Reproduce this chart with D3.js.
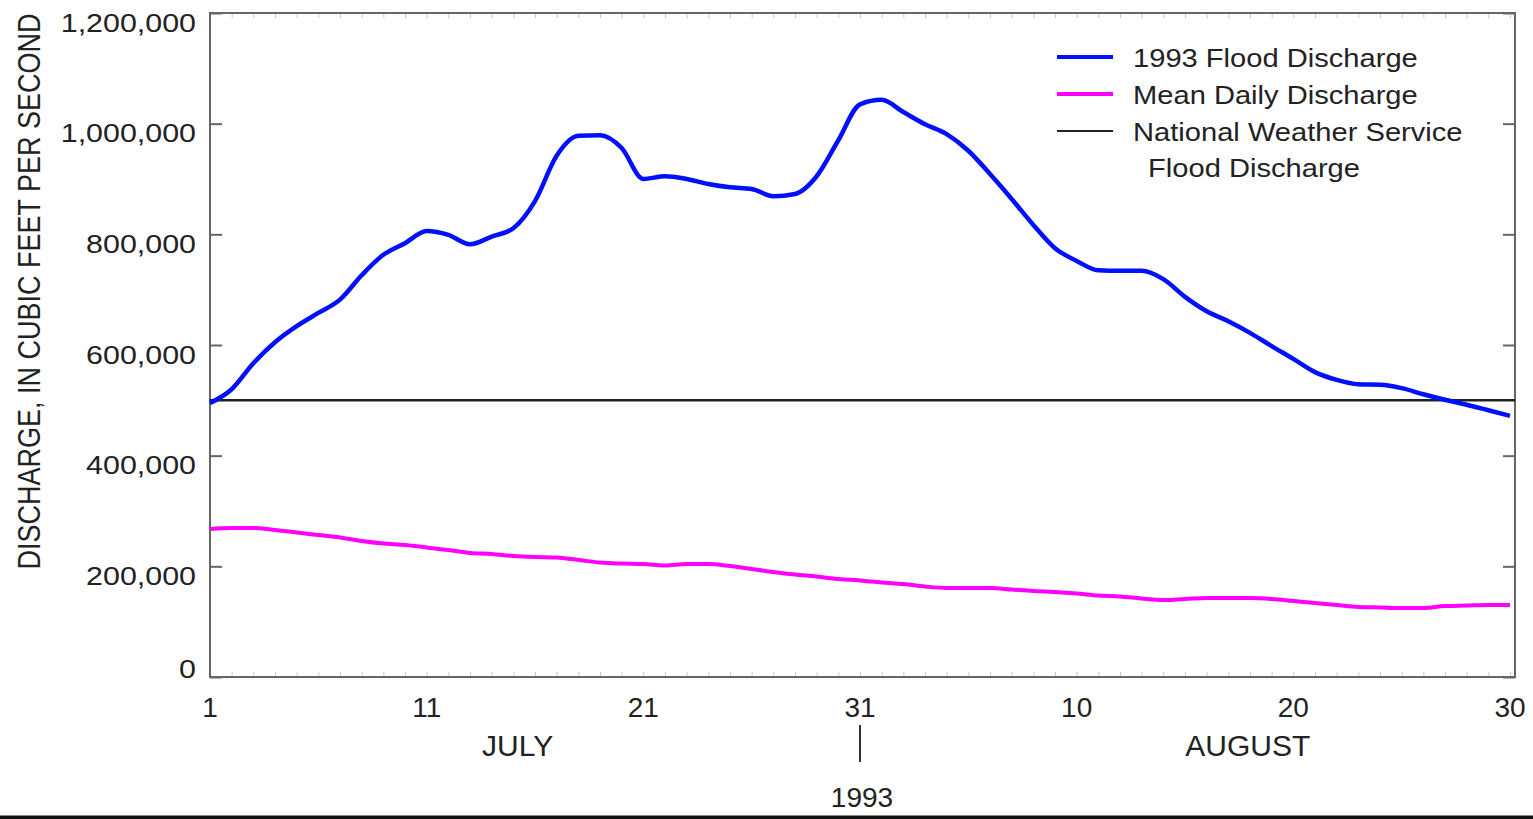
<!DOCTYPE html>
<html>
<head>
<meta charset="utf-8">
<script src="https://cdn.jsdelivr.net/npm/d3@7"></script>
<style>
  body { margin: 0; background: #fff; }
  text { font-family: "Liberation Sans", Arial, sans-serif; fill: #222; }
</style>
</head>
<body>
<div id="chart"></div>
<script>
// daily discharge, July 1 (day 1) to August 30 (day 61), cubic feet per second
const floodDischarge = [
  495000, 520000, 567000, 605000, 634000, 658000, 682000, 726000, 763000, 784000,
  806000, 799000, 782000, 796000, 811000, 860000, 942000, 978000, 979000, 956000,
  900000, 905000, 900000, 891000, 885000, 882000, 869000, 873000, 905000, 970000,
  1035000, 1043000, 1021000, 999000, 981000, 951000, 909000, 864000, 817000, 775000,
  752000, 735000, 734000, 734000, 719000, 687000, 661000, 643000, 622000, 598000,
  575000, 551000, 537000, 529000, 528000, 522000, 511000, 501000, 492000, 482000,
  472000,
];
const meanDischarge = [
  267500, 269300, 269300, 265700, 261100, 256600, 252100, 245800, 241300, 238600,
  234000, 229500, 224100, 222300, 218700, 216900, 216000, 211400, 206900, 205100,
  204200, 201500, 204200, 204200, 200600, 195200, 189800, 185200, 181600, 177100,
  174400, 170800, 168100, 163600, 160800, 160800, 160800, 158100, 155400, 153600,
  150900, 147300, 145500, 141900, 139200, 141000, 142800, 142800, 142800, 141000,
  137300, 133700, 130100, 126500, 125600, 124700, 124700, 128300, 129200, 130100,
  130100,
];
const nwsFloodDischarge = 500000;

const yTicks = [0, 200000, 400000, 600000, 800000, 1000000, 1200000];
const xTickDays = [1, 11, 21, 31, 41, 51, 61];
const xTickLabels = ["1", "11", "21", "31", "10", "20", "30"];
const months = ["JULY", "AUGUST"];
const monthCenters = [15.2, 48.9];
const yearLabel = "1993";
const legendItems = [
  { name: ["1993 Flood Discharge"], color: "#0010ff", width: 4 },
  { name: ["Mean Daily Discharge"], color: "#ff00ff", width: 4 },
  { name: ["National Weather Service", "Flood Discharge"], color: "#1b2424", width: 2 },
];

const width = 1533;
const height = 819;
const plot = { left: 210, right: 1515, top: 13, bottom: 677 };

const svg = d3
  .select("#chart")
  .append("svg")
  .attr("width", width)
  .attr("height", height);

const x = d3.scaleLinear().domain([1, 61]).range([plot.left, 1510]);
const y = d3.scaleLinear().domain([0, 1200000]).range([plot.bottom, plot.top]);

// text with a horizontal stretch, to match the wide lettering of the figure
function label(parent, px, py, str, size, anchor, sx) {
  return parent
    .append("g")
    .attr("transform", `translate(${px},${py}) scale(${sx},1)`)
    .append("text")
    .attr("text-anchor", anchor)
    .style("font-size", size + "px")
    .text(str);
}

// small inward ticks on all four sides
const days = floodDischarge.map((d, i) => i + 1);

svg
  .append("g")
  .attr("transform", `translate(${plot.left},0)`)
  .call(d3.axisLeft(y).tickValues(yTicks).tickSize(-12).tickFormat(""))
  .call((g) => g.select(".domain").remove())
  .selectAll("line")
  .attr("stroke", "#666")
  .attr("stroke-width", 2);

svg
  .append("g")
  .attr("transform", `translate(${plot.right},0)`)
  .call(d3.axisRight(y).tickValues(yTicks).tickSize(-12).tickFormat(""))
  .call((g) => g.select(".domain").remove())
  .selectAll("line")
  .attr("stroke", "#666")
  .attr("stroke-width", 2);

svg
  .append("g")
  .attr("transform", `translate(0,${plot.bottom})`)
  .call(d3.axisBottom(x).tickValues(days).tickSize(-5).tickFormat(""))
  .call((g) => g.select(".domain").remove())
  .selectAll("line")
  .attr("stroke", "#c8c8c8");

svg
  .append("g")
  .attr("transform", `translate(0,${plot.top})`)
  .call(d3.axisTop(x).tickValues(days).tickSize(-5).tickFormat(""))
  .call((g) => g.select(".domain").remove())
  .selectAll("line")
  .attr("stroke", "#c8c8c8");

// frame
svg
  .append("rect")
  .attr("x", plot.left)
  .attr("y", plot.top)
  .attr("width", plot.right - plot.left)
  .attr("height", plot.bottom - plot.top)
  .attr("fill", "none")
  .attr("stroke", "#666")
  .attr("stroke-width", 2);

// y tick labels: top of the number sits on the tick, except 0
const fmt = d3.format(",");
yTicks.forEach((v) => {
  const py = v === 0 ? y(v) + 1 : y(v) + 18.5;
  label(svg, 196, py, fmt(v), 26, "end", 1.17);
});

svg
  .append("g")
  .attr("transform", `translate(40,291.5) scale(1.14,1) rotate(-90)`)
  .append("text")
  .attr("text-anchor", "middle")
  .style("font-size", "27px")
  .text("DISCHARGE, IN CUBIC FEET PER SECOND");

// x tick labels
xTickDays.forEach((d, i) => {
  label(svg, x(d), 717, xTickLabels[i], 28, "middle", 1);
});
months.forEach((m, i) => {
  label(svg, x(monthCenters[i]), 756, m, 30, "middle", 1);
});
svg
  .append("line")
  .attr("x1", x(31))
  .attr("x2", x(31))
  .attr("y1", 725)
  .attr("y2", 762)
  .attr("stroke", "#333")
  .attr("stroke-width", 2);
label(svg, x(31) + 2, 807, yearLabel, 28, "middle", 1);

// series
svg
  .append("line")
  .attr("x1", plot.left)
  .attr("x2", plot.right)
  .attr("y1", y(nwsFloodDischarge))
  .attr("y2", y(nwsFloodDischarge))
  .attr("stroke", legendItems[2].color)
  .attr("stroke-width", 2.5);

const line = d3
  .line()
  .curve(d3.curveMonotoneX)
  .x((d, i) => x(i + 1))
  .y((d) => y(d));

svg
  .append("path")
  .datum(meanDischarge)
  .attr("fill", "none")
  .attr("stroke", legendItems[1].color)
  .attr("stroke-width", 4)
  .attr("d", line);

svg
  .append("path")
  .datum(floodDischarge)
  .attr("fill", "none")
  .attr("stroke", legendItems[0].color)
  .attr("stroke-width", 4.5)
  .attr("stroke-linejoin", "round")
  .attr("d", line);

// legend
const legend = svg.append("g");
const legendRows = [57, 94, 131];
legendItems.forEach((item, i) => {
  legend
    .append("line")
    .attr("x1", 1057)
    .attr("x2", 1113)
    .attr("y1", legendRows[i])
    .attr("y2", legendRows[i])
    .attr("stroke", item.color)
    .attr("stroke-width", item.width);
  item.name.forEach((n, j) => {
    label(legend, j === 0 ? 1133 : 1148, legendRows[i] + 9.5 + j * 36, n, 26, "start", 1.12);
  });
});

// bottom border of the figure
svg
  .append("rect")
  .attr("x", 0)
  .attr("y", 815.5)
  .attr("width", width)
  .attr("height", 3.5)
  .attr("fill", "#111");
</script>
</body>
</html>
